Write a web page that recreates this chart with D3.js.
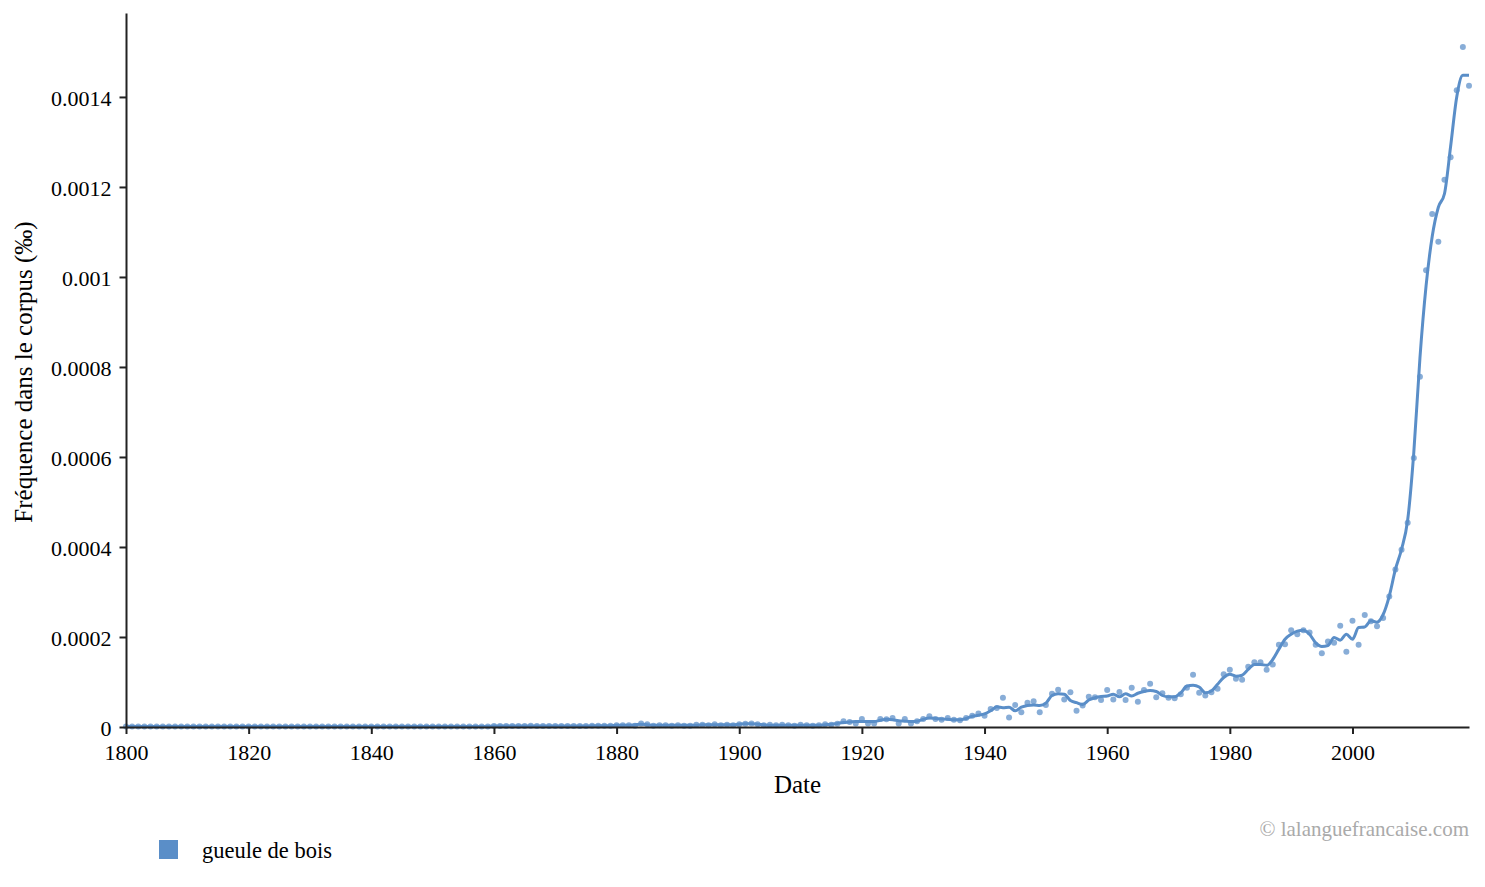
<!DOCTYPE html>
<html>
<head>
<meta charset="utf-8">
<script src="https://cdn.jsdelivr.net/npm/d3@7"></script>
<style>
  html, body { margin: 0; padding: 0; background: #fff; }
  text { font-family: "Liberation Serif", "Times New Roman", serif; }
</style>
</head>
<body>
<svg id="chart" width="1485" height="887"></svg>
<script>
// Years 1800–2019
const startYear = 1800;
const endYear = 2019;
const seriesName = "gueule de bois";
const yLabel = "Fréquence dans le corpus (‰)";
const xLabel = "Date";
const credit = "© lalanguefrancaise.com";
const xTickValues = [1800, 1820, 1840, 1860, 1880, 1900, 1920, 1940, 1960, 1980, 2000];
const yTickValues = [0, 0.0002, 0.0004, 0.0006, 0.0008, 0.001, 0.0012, 0.0014];
const yTickLabels = ["0", "0.0002", "0.0004", "0.0006", "0.0008", "0.001", "0.0012", "0.0014"];
const unit = 1e-5;

// yearly observed frequencies, in units of 1e-5 ‰
const pointValues = [
  // 1800–1859
  0.1,0.1,0.1,0.1,0.1,0.1,0.1,0.1,0.1,0.1,
  0.1,0.1,0.1,0.1,0.1,0.1,0.1,0.1,0.1,0.1,
  0.1,0.1,0.1,0.1,0.1,0.1,0.1,0.1,0.1,0.1,
  0.1,0.1,0.1,0.1,0.1,0.1,0.1,0.1,0.1,0.1,
  0.1,0.1,0.1,0.1,0.1,0.1,0.1,0.1,0.1,0.1,
  0.1,0.1,0.1,0.1,0.1,0.1,0.1,0.1,0.1,0.1,
  // 1860–1879
  0.2,0.2,0.2,0.2,0.2,0.2,0.3,0.2,0.2,0.2,
  0.2,0.2,0.2,0.2,0.2,0.2,0.3,0.3,0.3,0.3,
  // 1880–1899
  0.4,0.4,0.4,0.3,0.8,0.6,0.3,0.4,0.4,0.3,
  0.4,0.3,0.3,0.5,0.5,0.4,0.6,0.4,0.5,0.4,
  // 1900–1919
  0.6,0.7,0.8,0.6,0.4,0.5,0.4,0.5,0.4,0.3,
  0.5,0.4,0.3,0.4,0.6,0.5,0.7,1.3,1.1,0.8,
  // 1920–1939
  1.8,0.8,0.8,1.8,1.7,2.0,0.8,1.8,0.8,1.3,
  1.8,2.4,1.8,1.6,2.0,1.6,1.5,2.0,2.5,3.0,
  // 1940–1959
  2.5,4.0,4.2,6.5,2.1,4.9,3.3,5.4,5.7,3.3,
  4.9,7.4,8.3,6.1,7.7,3.6,4.8,6.7,6.6,6.0,
  // 1960–1979
  8.2,6.1,7.8,6.0,8.7,5.6,8.2,9.6,6.6,7.5,
  6.5,6.4,7.3,8.7,11.6,7.6,7.0,7.7,8.5,11.7,
  // 1980–1999
  12.7,10.7,10.5,13.4,14.4,14.4,12.7,13.9,18.3,18.4,
  21.5,20.6,21.5,21.0,18.3,16.4,19.0,18.7,22.5,16.7,
  // 2000–2019
  23.6,18.3,24.9,23.5,22.4,24.2,29.0,35.0,39.4,45.4,
  59.8,77.8,101.5,114.0,107.8,121.6,126.6,141.5,151.1,142.5
];

// smoothed curve, in units of 1e-5 ‰
const smoothValues = [
  // 1800–1859
  0.1,0.1,0.1,0.1,0.1,0.1,0.1,0.1,0.1,0.1,
  0.1,0.1,0.1,0.1,0.1,0.1,0.1,0.1,0.1,0.1,
  0.1,0.1,0.1,0.1,0.1,0.1,0.1,0.1,0.1,0.1,
  0.1,0.1,0.1,0.1,0.1,0.1,0.1,0.1,0.1,0.1,
  0.1,0.1,0.1,0.1,0.1,0.1,0.1,0.1,0.1,0.1,
  0.1,0.1,0.1,0.1,0.1,0.1,0.1,0.1,0.1,0.1,
  // 1860–1879
  0.2,0.2,0.2,0.2,0.2,0.2,0.2,0.2,0.2,0.2,
  0.2,0.2,0.2,0.2,0.2,0.2,0.3,0.3,0.3,0.3,
  // 1880–1899
  0.4,0.4,0.4,0.5,0.6,0.5,0.4,0.4,0.4,0.4,
  0.4,0.4,0.4,0.4,0.5,0.5,0.5,0.5,0.5,0.5,
  // 1900–1919
  0.6,0.7,0.7,0.6,0.5,0.4,0.4,0.4,0.4,0.4,
  0.4,0.4,0.4,0.4,0.5,0.6,0.8,1.0,1.1,1.2,
  // 1920–1939
  1.2,1.2,1.2,1.5,1.7,1.6,1.4,1.3,1.2,1.3,
  1.7,2.0,1.9,1.8,1.7,1.6,1.6,1.9,2.4,2.6,
  // 1940–1959
  2.9,3.6,4.5,4.3,4.4,3.6,4.4,4.8,4.9,4.8,
  5.3,7.0,7.4,7.3,5.9,5.4,5.0,6.0,6.5,6.8,
  // 1960–1979
  6.9,7.3,6.7,7.4,6.9,7.5,7.9,8.1,7.9,7.0,
  6.7,6.7,7.6,9.1,9.3,8.9,7.6,8.0,9.5,11.0,
  // 1980–1999
  11.7,11.3,11.5,12.8,13.9,13.9,13.7,15.0,17.3,19.5,
  20.6,21.3,21.5,20.6,18.7,17.9,18.1,19.9,19.3,20.6,
  // 2000–2019
  19.5,22.1,22.2,23.6,23.3,25.0,29.1,35.0,39.5,46.0,
  61.0,82.0,98.0,109.0,115.5,118.5,129.0,140.0,144.8,144.8
];

const years = d3.range(startYear, endYear + 1);
const points = years.map((y, i) => ({ year: y, v: pointValues[i] * unit }));
const smooth = years.map((y, i) => ({ year: y, v: smoothValues[i] * unit }));

const W = 1485, H = 887;
const margin = { left: 126, right: 16, top: 13, bottom: 160 };
const color = "#5a8ec8";

const svg = d3.select("#chart");

const x = d3.scaleLinear()
  .domain([startYear, endYear])
  .range([margin.left, W - margin.right]);

const yMax = d3.max(points, d => d.v) * 1.05;
const y = d3.scaleLinear()
  .domain([0, yMax])
  .range([H - margin.bottom, margin.top]);

// points
svg.append("g")
  .selectAll("circle")
  .data(points)
  .join("circle")
  .attr("cx", d => x(d.year))
  .attr("cy", d => y(d.v))
  .attr("r", 3)
  .attr("fill", color)
  .attr("fill-opacity", 0.72);

// smoothed line
svg.append("path")
  .datum(smooth)
  .attr("fill", "none")
  .attr("stroke", color)
  .attr("stroke-width", 3)
  .attr("stroke-linejoin", "round")
  .attr("d", d3.line().x(d => x(d.year)).y(d => y(d.v)).curve(d3.curveMonotoneX));

// x axis
const xAxis = svg.append("g")
  .attr("transform", `translate(0,${H - margin.bottom})`)
  .call(d3.axisBottom(x).tickValues(xTickValues).tickFormat(d3.format("d")).tickSize(7).tickSizeOuter(0).tickPadding(10));
xAxis.select(".domain").attr("stroke", "#222").attr("stroke-width", 2);
xAxis.selectAll(".tick line").attr("stroke", "#222").attr("stroke-width", 2);
xAxis.selectAll(".tick text").attr("fill", "#000").style("font-size", "22px")
  .style("font-family", "'Liberation Serif', serif");

// y axis
const yAxis = svg.append("g")
  .attr("transform", `translate(${margin.left},0)`)
  .call(d3.axisLeft(y).tickValues(yTickValues).tickFormat((d, i) => yTickLabels[i]).tickSize(6.5).tickSizeOuter(0).tickPadding(8));
yAxis.select(".domain").attr("stroke", "#222").attr("stroke-width", 2);
yAxis.selectAll(".tick line").attr("stroke", "#222").attr("stroke-width", 2);
yAxis.selectAll(".tick text").attr("fill", "#000").style("font-size", "22px")
  .style("font-family", "'Liberation Serif', serif")
  .attr("dy", "0.4em");

// axis titles
svg.append("text")
  .attr("x", (margin.left + W - margin.right) / 2)
  .attr("y", 793)
  .attr("text-anchor", "middle")
  .style("font-size", "25px")
  .text(xLabel);

svg.append("text")
  .attr("transform", `translate(32,${(margin.top + H - margin.bottom) / 2 + 2}) rotate(-90)`)
  .attr("text-anchor", "middle")
  .style("font-size", "25px")
  .text(yLabel);

// legend
svg.append("rect")
  .attr("x", 159).attr("y", 840)
  .attr("width", 19).attr("height", 19)
  .attr("fill", color);
svg.append("text")
  .attr("x", 202).attr("y", 858)
  .style("font-size", "22.5px")
  .text(seriesName);

// credit
svg.append("text")
  .attr("x", W - margin.right).attr("y", 836)
  .attr("text-anchor", "end")
  .attr("fill", "#aaa")
  .style("font-size", "21px")
  .text(credit);
</script>
</body>
</html>
